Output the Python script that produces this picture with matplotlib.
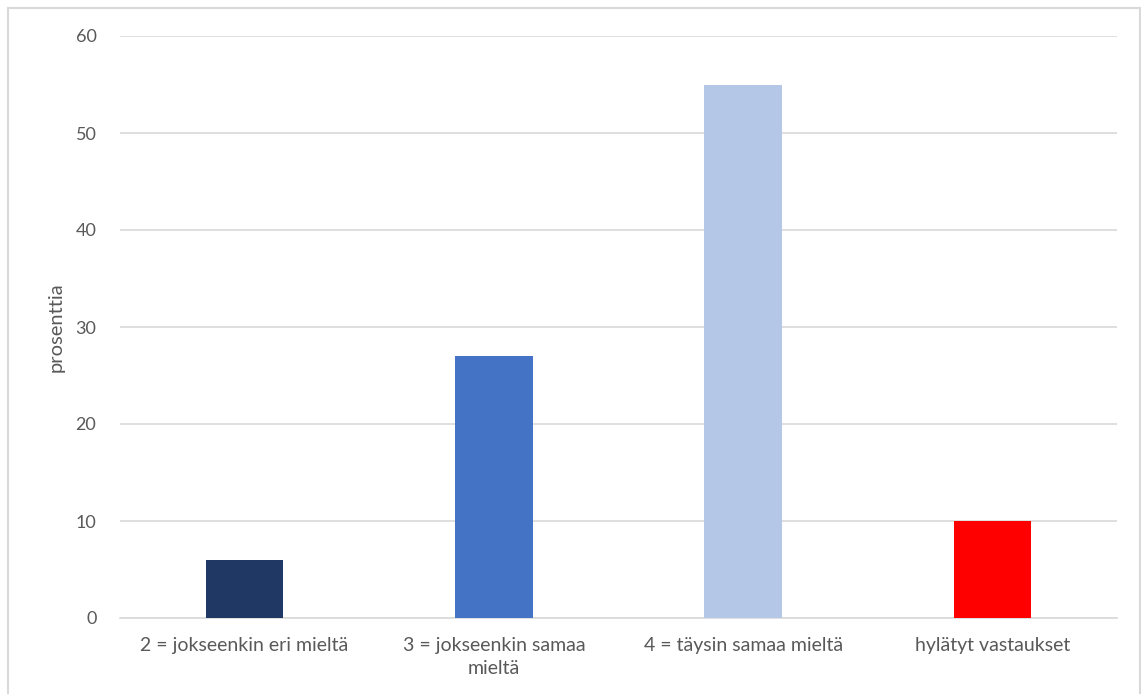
import matplotlib
matplotlib.use("Agg")
import matplotlib.pyplot as plt
from matplotlib.patches import Rectangle

categories = ["2 = jokseenkin eri mieltä", "3 = jokseenkin samaa\nmieltä",
              "4 = täysin samaa mieltä", "hylätyt vastaukset"]
values = [6, 27, 55, 10]
colors = ["#203864", "#4472C4", "#B4C7E7", "#FF0000"]
yticks = [0, 10, 20, 30, 40, 50, 60]

plt.rcParams["font.family"] = ["Lato", "DejaVu Sans"]
text_color = "#595959"
grid_color = "#D9D9D9"

fig = plt.figure(figsize=(11.41, 6.94), dpi=100)
ax = fig.add_axes([120 / 1141, 76 / 694, 997 / 1141, 582 / 694])

x = range(len(categories))
ax.bar(x, values, width=0.31, color=colors, zorder=3)

ax.set_xlim(-0.5, len(categories) - 0.5)
ax.set_ylim(0, 60)
ax.set_yticks(yticks)
ax.set_xticks(list(x))
ax.set_xticklabels(categories, fontsize=14, color=text_color, linespacing=1.4)
ax.tick_params(axis="y", labelsize=13, labelcolor=text_color, length=0, pad=17)
ax.tick_params(axis="x", length=0, pad=14)

ax.grid(axis="y", color=grid_color, linewidth=1.2, zorder=0)
for side in ["top", "right", "left"]:
    ax.spines[side].set_visible(False)
ax.spines["bottom"].set_color(grid_color)
ax.spines["bottom"].set_linewidth(1.2)

ax.set_ylabel("prosenttia", fontsize=14.5, color=text_color, labelpad=8)

# outer frame around the chart area
fig.patches.append(Rectangle((8 / 1141, -0.1), 1132 / 1141, 1.1 - 8 / 694,
                             transform=fig.transFigure, fill=False,
                             edgecolor="#D9D9D9", linewidth=1.5))

fig.savefig("out.png", dpi=100)
